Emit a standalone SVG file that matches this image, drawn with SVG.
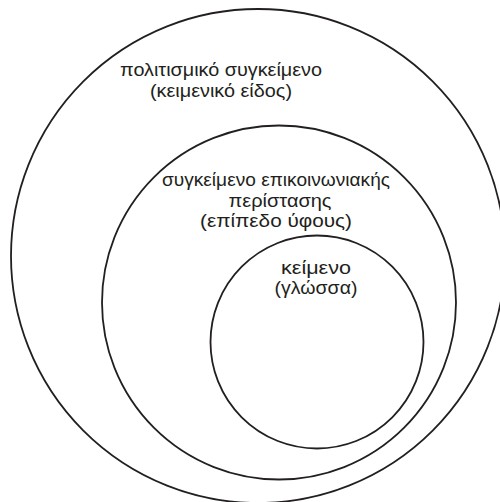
<svg xmlns="http://www.w3.org/2000/svg" width="500" height="502" viewBox="0 0 500 502">
<style>
.c{fill:none;stroke:#231f20;stroke-width:1.8}
.t{font-family:"Liberation Sans",Arial,sans-serif;font-size:18px;fill:#231f20;text-anchor:middle}
</style>
<rect width="500" height="502" fill="#fff"/>
<g id="outer">
<circle class="c" cx="258" cy="256" r="247"/>
<text class="t" x="221" y="75.5" textLength="202" lengthAdjust="spacingAndGlyphs">πολιτισμικό συγκείμενο</text>
<text class="t" x="221" y="96.5" textLength="142" lengthAdjust="spacingAndGlyphs">(κειμενικό είδος)</text>
</g>
<g id="middle">
<circle class="c" cx="279" cy="302.5" r="177"/>
<text class="t" x="276" y="186" textLength="228" lengthAdjust="spacingAndGlyphs">συγκείμενο επικοινωνιακής</text>
<text class="t" x="280" y="206.5" textLength="103" lengthAdjust="spacingAndGlyphs">περίστασης</text>
<text class="t" x="276" y="227" textLength="152" lengthAdjust="spacingAndGlyphs">(επίπεδο ύφους)</text>
</g>
<g id="inner">
<circle class="c" cx="317" cy="342" r="106.5"/>
<text class="t" x="316" y="273.5" textLength="70" lengthAdjust="spacingAndGlyphs">κείμενο</text>
<text class="t" x="316" y="294" textLength="83" lengthAdjust="spacingAndGlyphs">(γλώσσα)</text>
</g>
<g id="connectors"/>
</svg>
